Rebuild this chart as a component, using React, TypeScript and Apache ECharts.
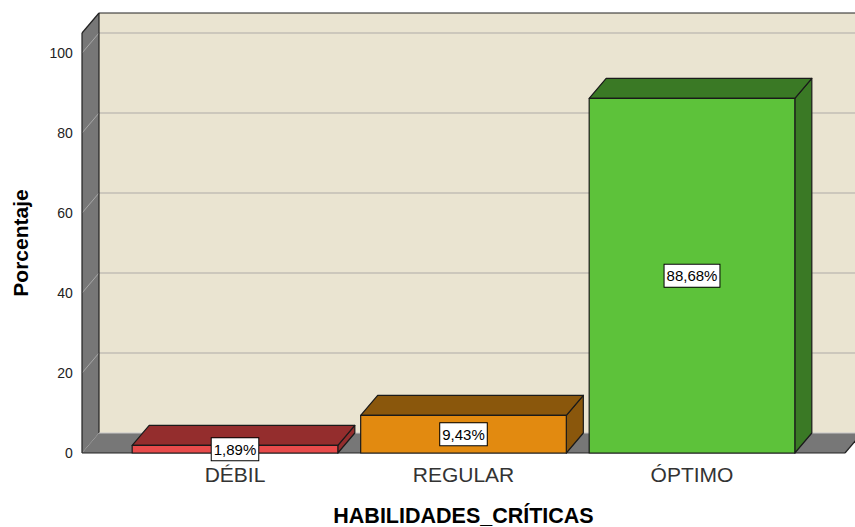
import React, { useEffect, useRef } from "react";
import * as echarts from "echarts";

const categories = ["DÉBIL", "REGULAR", "ÓPTIMO"];
const percentages = [1.89, 9.43, 88.68];
const valueLabels = ["1,89%", "9,43%", "88,68%"];
const yTickValues = [0, 20, 40, 60, 80, 100];
const frontColors = ["#E84B4B", "#E28A10", "#5DC23A"];
const shadeColors = ["#942D2D", "#8A570C", "#3A7925"];

const DX = 17;
const DY = 20;
const SIDE = 38.75;
const FONT = "'Liberation Sans', Arial, sans-serif";

export default function App() {
  const ref = useRef<HTMLDivElement>(null);
  useEffect(() => {
    if (!ref.current) return;
    const chart = echarts.init(ref.current, undefined, { renderer: "svg" });

    const frameRender = (params: any, api: any) => {
      const cs = params.coordSys;
      const y0 = api.coord([0, 0])[1];
      const y100 = api.coord([0, 100])[1];
      const k = (y0 - y100) / 100;
      const FL = cs.x - SIDE;
      const FR = cs.x + cs.width + SIDE;
      const topFront = y100 - 5 * k;
      const children: any[] = [];
      children.push({
        type: "rect",
        shape: { x: FL + DX, y: topFront - DY, width: FR - FL, height: y0 - topFront },
        style: { fill: "#EAE4D1" },
      });
      yTickValues.forEach((v) => {
        if (v === 0) return;
        const yv = y0 - v * k;
        children.push({
          type: "line",
          shape: { x1: FL + DX, y1: yv - DY, x2: FR + DX, y2: yv - DY },
          style: { stroke: "#C2BEB4", lineWidth: 1.5 },
        });
      });
      children.push({
        type: "polygon",
        shape: { points: [[FL, topFront], [FL + DX, topFront - DY], [FL + DX, y0 - DY], [FL, y0]] },
        style: { fill: "#777777" },
      });
      yTickValues.forEach((v) => {
        if (v === 0) return;
        const yv = y0 - v * k;
        children.push({
          type: "line",
          shape: { x1: FL, y1: yv, x2: FL + DX, y2: yv - DY },
          style: { stroke: "#A8A8A8", lineWidth: 1 },
        });
      });
      children.push({
        type: "polygon",
        shape: { points: [[FL, y0], [FL + DX, y0 - DY], [FR + DX, y0 - DY], [FR, y0]] },
        style: { fill: "#777777" },
      });
      const edges = [
        [FL + DX, topFront - DY, FR + DX, topFront - DY],
        [FL, topFront, FL + DX, topFront - DY],
        [FL, topFront, FL, y0],
        [FL + DX, topFront - DY, FL + DX, y0 - DY],
        [FL, y0, FR, y0],
        [FR, y0, FR + DX, y0 - DY],
      ];
      edges.forEach((e) => {
        children.push({
          type: "line",
          shape: { x1: e[0], y1: e[1], x2: e[2], y2: e[3] },
          style: { stroke: "#222", lineWidth: 1.2 },
        });
      });
      children.push({
        type: "line",
        shape: { x1: FL + DX, y1: y0 - DY, x2: FR + DX, y2: y0 - DY },
        style: { stroke: "#C9C9C9", lineWidth: 1 },
      });
      return { type: "group", children };
    };

    const barRender = (params: any, api: any) => {
      const idx = api.value(0);
      const val = api.value(1);
      const top = api.coord([idx, val]);
      const base = api.coord([idx, 0]);
      const band = api.size([1, 0])[0];
      const w = band * 0.9;
      const L = top[0] - w / 2;
      const R = L + w;
      const t = top[1];
      const b = base[1];
      const i = params.dataIndex;
      const stroke = { stroke: "#1a1a1a", lineWidth: 1.2, lineJoin: "round" };
      return {
        type: "group",
        children: [
          {
            type: "polygon",
            shape: { points: [[R, t], [R + DX, t - DY], [R + DX, b - DY], [R, b]] },
            style: { fill: shadeColors[i], ...stroke },
          },
          {
            type: "polygon",
            shape: { points: [[L, t], [L + DX, t - DY], [R + DX, t - DY], [R, t]] },
            style: { fill: shadeColors[i], ...stroke },
          },
          {
            type: "rect",
            shape: { x: L, y: t, width: w, height: b - t },
            style: { fill: frontColors[i], ...stroke },
          },
          {
            type: "text",
            x: top[0],
            y: (t + b) / 2,
            z2: 10,
            style: {
              text: valueLabels[i],
              fill: "#000",
              font: `15px ${FONT}`,
              align: "center",
              verticalAlign: "middle",
              textAlign: "center",
              textVerticalAlign: "middle",
              backgroundColor: "#fff",
              borderColor: "#000",
              borderWidth: 1,
              padding: [4, 2, 3, 2],
            },
          },
        ],
      };
    };

    chart.setOption({
      animation: false,
      grid: {
        left: 120.75,
        right: 48.75,
        top: 53,
        bottom: 74,
        containLabel: false,
        outerBoundsMode: "none",
      },
      xAxis: {
        type: "category",
        data: categories,
        name: "HABILIDADES_CRÍTICAS",
        nameLocation: "middle",
        nameGap: 52,
        nameTextStyle: { fontSize: 21.5, fontWeight: "bold", color: "#000", fontFamily: FONT },
        axisLine: { show: false },
        axisTick: { show: false },
        axisLabel: { fontSize: 21, color: "#333", margin: 11, fontFamily: FONT },
      },
      yAxis: {
        type: "value",
        min: 0,
        max: 100,
        interval: 20,
        name: "Porcentaje",
        nameLocation: "middle",
        nameGap: 90,
        nameTextStyle: {
          fontSize: 21,
          fontWeight: "bold",
          color: "#000",
          fontFamily: FONT,
          padding: [0, 0, 0, 20],
        },
        axisLine: { show: false },
        axisTick: { show: false },
        splitLine: { show: false },
        axisLabel: {
          fontSize: 14,
          color: "#222",
          margin: 48,
          fontFamily: FONT,
          padding: [6, 0, 0, 0],
        },
      },
      series: [
        {
          type: "custom",
          renderItem: frameRender,
          data: [[0, 0]],
          clip: false,
          silent: true,
          z: 1,
        },
        {
          type: "custom",
          renderItem: barRender,
          data: percentages.map((v, i) => [i, v]),
          clip: false,
          z: 2,
        },
      ],
    });
    return () => chart.dispose();
  }, []);
  return (
    <div
      ref={ref}
      style={{ position: "absolute", left: 0, top: 0, width: 855, height: 527 }}
    />
  );
}
